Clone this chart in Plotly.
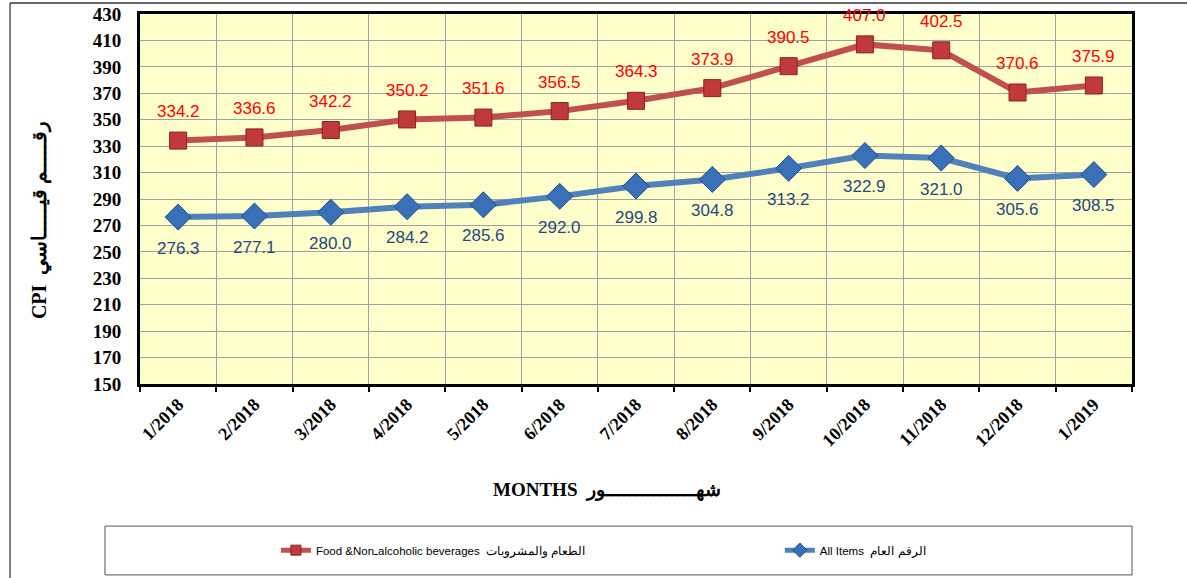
import plotly.graph_objects as go

months = ["1/2018", "2/2018", "3/2018", "4/2018", "5/2018", "6/2018", "7/2018",
          "8/2018", "9/2018", "10/2018", "11/2018", "12/2018", "1/2019"]
food = [334.2, 336.6, 342.2, 350.2, 351.6, 356.5, 364.3, 373.9, 390.5, 407.0, 402.5, 370.6, 375.9]
all_items = [276.3, 277.1, 280.0, 284.2, 285.6, 292.0, 299.8, 304.8, 313.2, 322.9, 321.0, 305.6, 308.5]
y_ticks = list(range(150, 431, 20))

food_name = "Food &Nonـalcoholic beverages  الطعام والمشروبات"
all_name = "All Items  الرقم العام"

xs = list(range(len(months)))

RED_LINE, RED_MK, RED_EDGE = "#C0504D", "#C0393B", "#8B2020"
BLUE_LINE, BLUE_MK, BLUE_EDGE = "#4F81BD", "#3A70B8", "#1F4E8C"

fig = go.Figure()
fig.add_trace(go.Scatter(
    x=xs, y=food, name=food_name, mode="lines+markers", showlegend=False,
    line=dict(color=RED_LINE, width=6),
    marker=dict(symbol="square", size=17, color=RED_MK, line=dict(color=RED_EDGE, width=1)),
))
fig.add_trace(go.Scatter(
    x=xs, y=all_items, name=all_name, mode="lines+markers", showlegend=False,
    line=dict(color=BLUE_LINE, width=6),
    marker=dict(symbol="diamond", size=20, color=BLUE_MK, line=dict(color=BLUE_EDGE, width=1)),
))
# legend entries
fig.add_trace(go.Scatter(
    x=[None], y=[None], name=food_name, mode="lines+markers", legend="legend",
    line=dict(color=RED_LINE, width=5),
    marker=dict(symbol="square", size=10, color=RED_MK, line=dict(color=RED_EDGE, width=1)),
))
fig.add_trace(go.Scatter(
    x=[None], y=[None], name=all_name, mode="lines+markers", legend="legend2",
    line=dict(color=BLUE_LINE, width=5),
    marker=dict(symbol="diamond", size=11, color=BLUE_MK, line=dict(color=BLUE_EDGE, width=1)),
))

annotations = []
for x, v in zip(xs, food):
    annotations.append(dict(x=x, y=v, text=f"{v:.1f}", showarrow=False, yshift=29,
                            font=dict(family="Liberation Sans, Arial", size=17, color="#FF0000")))
for x, v in zip(xs, all_items):
    annotations.append(dict(x=x, y=v, text=f"{v:.1f}", showarrow=False, yshift=-31,
                            font=dict(family="Liberation Sans, Arial", size=17, color="#1F497D")))

annotations.append(dict(xref="paper", yref="paper", x=-0.1008, xanchor="center", y=0.443, yanchor="middle",
                        text="<b>CPI  رقـــــم قيـــــاسي</b>", textangle=-90, showarrow=False,
                        font=dict(family="Liberation Serif, DejaVu Serif", size=20, color="black")))
annotations.append(dict(xref="paper", yref="paper", x=0.471, xanchor="center", y=-0.2865, yanchor="middle",
                        text="<b>MONTHS  شهـــــــــــــــور</b>", showarrow=False,
                        font=dict(family="Liberation Serif, DejaVu Serif", size=19, color="black")))

shapes = [
    dict(type="rect", xref="paper", yref="paper", x0=-0.0353, x1=1.0, y0=-0.516, y1=-0.384,
         line=dict(color="#555555", width=1), fillcolor="rgba(0,0,0,0)", layer="below"),
    dict(type="line", xref="paper", yref="paper", x0=-0.131, x1=1.2, y0=1.0297, y1=1.0297,
         line=dict(color="#333333", width=1.5)),
    dict(type="line", xref="paper", yref="paper", x0=-0.131, x1=-0.131, y0=1.0297, y1=-0.6,
         line=dict(color="#555555", width=1.5)),
]

legend_font = dict(family="Liberation Sans Narrow, Arial Narrow, Liberation Sans", size=11.5, color="black")

fig.update_layout(
    width=1187, height=578,
    margin=dict(l=140, r=55, t=14, b=194, autoexpand=False),
    paper_bgcolor="white", plot_bgcolor="#FFFFCC",
    showlegend=True,
    legend=dict(orientation="h", x=0.137, xanchor="left", y=-0.449, yanchor="middle",
                itemwidth=30, font=legend_font, bgcolor="rgba(0,0,0,0)"),
    legend2=dict(orientation="h", x=0.645, xanchor="left", y=-0.449, yanchor="middle",
                 itemwidth=30, font=legend_font, bgcolor="rgba(0,0,0,0)"),
    annotations=annotations,
    shapes=shapes,
)

fig.update_xaxes(
    range=[-0.5, len(months) - 0.5],
    tickmode="array", tickvals=xs, ticktext=months, tickangle=-45,
    ticks="", showgrid=False,
    tickfont=dict(family="Liberation Serif, Times New Roman", size=18, color="black", weight="bold"),
    minor=dict(tickmode="linear", tick0=0.5, dtick=1, showgrid=True, gridcolor="#A0A0A0", gridwidth=1,
               ticks="outside", ticklen=5, tickwidth=2, tickcolor="black"),
    showline=True, linecolor="black", linewidth=3, mirror=True, zeroline=False,
)
fig.update_yaxes(
    range=[150, 430], tickmode="array", tickvals=y_ticks,
    showgrid=True, gridcolor="#A0A0A0", gridwidth=1,
    tickfont=dict(family="Liberation Serif, Times New Roman", size=19, color="black", weight="bold"),
    ticklabelstandoff=12,
    showline=True, linecolor="black", linewidth=3, mirror=True, zeroline=False,
)

fig.write_html("out.html", config={"displayModeBar": False},
               post_script="document.body.style.margin='0';")
